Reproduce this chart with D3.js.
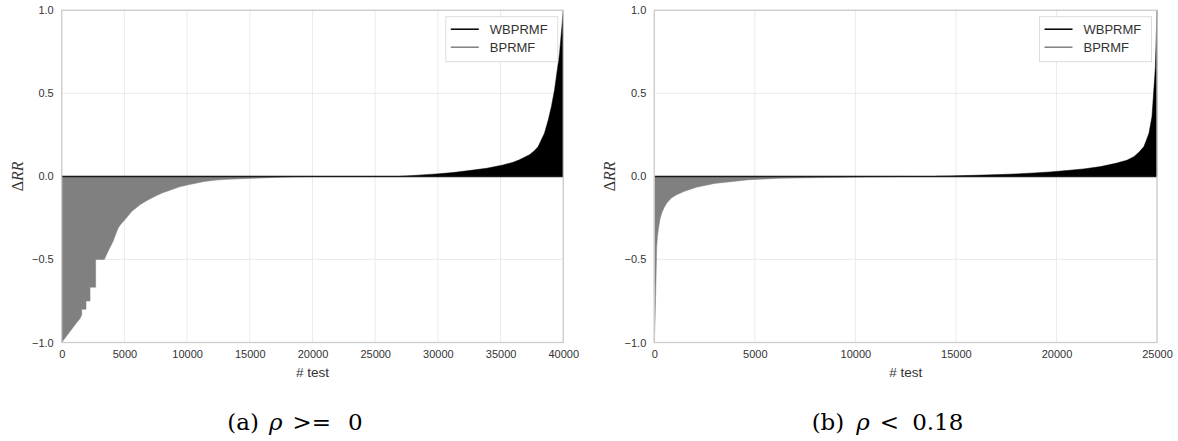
<!DOCTYPE html>
<html>
<head>
<meta charset="utf-8">
<script src="https://cdn.jsdelivr.net/npm/d3@7"></script>
<style>
  body { margin: 0; background: #fff; }
</style>
</head>
<body>
<div id="chart"></div>
<script>
// data (sorted ΔRR per test)

// panel (a): rho >= 0, 40000 tests
const aNegX = [0, 1200, 1450, 1600, 1600, 1940, 1940, 2260, 2260, 2710, 2710, 3400, 3700, 4100, 4300, 4500, 4750, 5050, 5600, 6250, 6800, 7450, 8000, 8750, 9400, 10100, 11400, 12300, 13300, 15400, 17500, 20000];
const aNegY = [-1.0, -0.88, -0.857, -0.833, -0.8, -0.8, -0.75, -0.75, -0.667, -0.667, -0.5, -0.5, -0.45, -0.39, -0.35, -0.31, -0.285, -0.26, -0.21, -0.17, -0.145, -0.12, -0.1, -0.08, -0.063, -0.05, -0.03, -0.022, -0.017, -0.011, -0.005, 0];
const aPosX = [27000, 29900, 31200, 32500, 33900, 35200, 36000, 36500, 37300, 37700, 38000, 38250, 38500, 38800, 39050, 39300, 39700, 40000];
const aPosY = [0, 0.015, 0.023, 0.035, 0.049, 0.069, 0.085, 0.10, 0.13, 0.155, 0.18, 0.22, 0.26, 0.34, 0.42, 0.52, 0.74, 1.0];

// panel (b): rho < 0.18, 25000 tests
const bNegX = [0, 20, 35, 60, 85, 120, 160, 200, 280, 370, 480, 620, 850, 1110, 1500, 2100, 3000, 4600, 6250, 9570, 12500];
const bNegY = [-1.0, -0.93, -0.88, -0.75, -0.62, -0.42, -0.36, -0.32, -0.26, -0.22, -0.19, -0.16, -0.13, -0.11, -0.09, -0.065, -0.042, -0.021, -0.011, -0.005, 0];
const bPosX = [14000, 17200, 18000, 18900, 19700, 20500, 21350, 22200, 23000, 23500, 23850, 24100, 24350, 24480, 24600, 24750, 24830, 24920, 25000];
const bPosY = [0, 0.011, 0.015, 0.021, 0.027, 0.035, 0.045, 0.059, 0.08, 0.097, 0.119, 0.145, 0.18, 0.22, 0.26, 0.36, 0.5, 0.66, 1.0];

const seriesNames = ["WBPRMF", "BPRMF"];
const seriesColors = ["#000000", "#808080"];
const yTicks = [-1.0, -0.5, 0.0, 0.5, 1.0];

const width = 1178;
const height = 441;
const sans = '"Liberation Sans", Arial, sans-serif';
const serif = '"Liberation Serif", "Times New Roman", serif';
const capFont = '"DejaVu Serif", serif';

const svg = d3.select('#chart')
    .append('svg')
    .attr('width', width)
    .attr('height', height)
    .attr('font-family', sans);

function drawPanel(opt) {
    const x = d3.scaleLinear()
        .domain([0, opt.xmax])
        .range([opt.left, opt.right]);
    const y = d3.scaleLinear()
        .domain([-1, 1])
        .range([342.5, 10.3]);

    const g = svg.append('g');

    // grid
    g.append('g').selectAll('line')
        .data(d3.range(0, opt.xmax + 1, 5000))
        .join('line')
        .attr('x1', d => x(d)).attr('x2', d => x(d))
        .attr('y1', y(-1)).attr('y2', y(1))
        .attr('stroke', '#ebebeb').attr('stroke-width', 1);
    g.append('g').selectAll('line')
        .data(yTicks)
        .join('line')
        .attr('x1', x(0)).attr('x2', x(opt.xmax))
        .attr('y1', d => y(d)).attr('y2', d => y(d))
        .attr('stroke', '#ebebeb').attr('stroke-width', 1);

    const area = d3.area()
        .x(d => x(d[0]))
        .y0(y(0))
        .y1(d => y(d[1]));

    // BPRMF better (negative)
    g.append('path')
        .datum(d3.zip(opt.negX, opt.negY))
        .attr('d', area)
        .attr('fill', seriesColors[1])
        .attr('stroke', seriesColors[1])
        .attr('stroke-width', 0.5);

    // WBPRMF better (positive)
    g.append('path')
        .datum(d3.zip(opt.posX, opt.posY))
        .attr('d', area)
        .attr('fill', seriesColors[0])
        .attr('stroke', seriesColors[0])
        .attr('stroke-width', 0.5);

    // zero line
    g.append('line')
        .attr('x1', x(0)).attr('x2', x(opt.xmax))
        .attr('y1', y(0)).attr('y2', y(0))
        .attr('stroke', '#1a1a1a').attr('stroke-width', 1.5);

    // frame
    g.append('rect')
        .attr('x', x(0)).attr('y', y(1))
        .attr('width', x(opt.xmax) - x(0))
        .attr('height', y(-1) - y(1))
        .attr('fill', 'none')
        .attr('stroke', '#cccccc')
        .attr('stroke-width', 1.3);

    // axes
    const xAxis = g.append('g')
        .attr('transform', `translate(0,${y(-1)})`)
        .call(d3.axisBottom(x)
            .tickValues(d3.range(0, opt.xmax + 1, 5000))
            .tickFormat(d3.format('d'))
            .tickSize(0).tickPadding(8));
    const yAxis = g.append('g')
        .attr('transform', `translate(${x(0)},0)`)
        .call(d3.axisLeft(y)
            .tickValues(yTicks)
            .tickFormat(d3.format('.1f'))
            .tickSize(0).tickPadding(8));
    [xAxis, yAxis].forEach(a => {
        a.select('.domain').remove();
        a.attr('font-family', sans).attr('font-size', 11);
        a.selectAll('text').attr('fill', '#333');
    });

    // axis labels
    g.append('text')
        .attr('x', (x(0) + x(opt.xmax)) / 2)
        .attr('y', 377)
        .attr('text-anchor', 'middle')
        .attr('font-size', 13.5)
        .attr('fill', '#333')
        .text('# test');

    const yl = g.append('text')
        .attr('transform', `translate(${x(0) - 39},${y(0)}) rotate(-90)`)
        .attr('text-anchor', 'middle')
        .attr('font-family', serif)
        .attr('font-size', 16)
        .attr('fill', '#333');
    yl.append('tspan').text('Δ');
    yl.append('tspan').attr('font-style', 'italic').text('RR');

    // legend
    const lx = x(opt.xmax) - 5.5 - 112;
    const leg = g.append('g').attr('transform', `translate(${lx},16.7)`);
    leg.append('rect')
        .attr('width', 112).attr('height', 45)
        .attr('fill', '#fff')
        .attr('stroke', '#dddddd')
        .attr('stroke-width', 1);
    seriesNames.forEach((name, i) => {
        const yy = 12.5 + i * 18;
        leg.append('line')
            .attr('x1', 5).attr('x2', 33)
            .attr('y1', yy).attr('y2', yy)
            .attr('stroke', seriesColors[i])
            .attr('stroke-width', 1.5);
        leg.append('text')
            .attr('x', 44).attr('y', yy)
            .attr('dy', '0.35em')
            .attr('font-size', 13)
            .attr('fill', '#333')
            .text(name);
    });

    // caption
    const cap = svg.append('text')
        .attr('x', opt.capX)
        .attr('y', 430)
        .attr('text-anchor', 'middle')
        .attr('font-family', capFont)
        .attr('font-size', 23)
        .attr('fill', '#000');
    cap.append('tspan').text(opt.capLead);
    cap.append('tspan').attr('dx', opt.gaps[0]).attr('font-style', 'italic').text('ρ');
    cap.append('tspan').attr('dx', opt.gaps[1]).text(opt.capRel);
    cap.append('tspan').attr('dx', opt.gaps[2]).text(opt.capVal);
}

drawPanel({
    xmax: 40000, left: 61.7, right: 563.3,
    negX: aNegX, negY: aNegY, posX: aPosX, posY: aPosY,
    capX: 295, capLead: '(a)', capRel: '>=', capVal: '0', gaps: [10, 10, 17]
});

drawPanel({
    xmax: 25000, left: 654.3, right: 1157,
    negX: bNegX, negY: bNegY, posX: bPosX, posY: bPosY,
    capX: 887.5, capLead: '(b)', capRel: '<', capVal: '0.18', gaps: [12, 10, 13]
});
</script>
</body>
</html>
